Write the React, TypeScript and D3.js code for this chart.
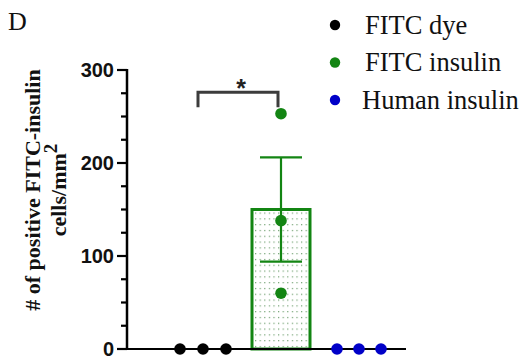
import { useEffect } from 'react'
import * as d3 from 'd3'

// groups and values
const groups = ['FITC dye', 'FITC insulin', 'Human insulin']
const groupColors = ['#000000', '#138513', '#0000c8']
const barMeans = [0, 150, 0]
const barSems = [0, 56, 0]
const points = [
  [0, 0, 0],
  [253, 138, 60],
  [0, 0, 0],
]
const jitter = [[-23, 0, 23], [0, 0, 0], [-22, 0, 22]]
const yTicks = [0, 100, 200, 300]
const yMinorTicks = d3.range(0, 301, 25)
const sigValue = 276

const W = 525
const H = 360
const SERIF = '"Liberation Serif", "Times New Roman", serif'
const SANS = '"Liberation Sans", Arial, sans-serif'

export default function App() {
  useEffect(() => {
    document.body.style.margin = '0'
  }, [])

  const y = d3.scaleLinear().domain([0, 300]).range([349, 70])
  const x = d3.scalePoint<string>().domain(groups).range([203, 359])
  const axisLeft = 127
  const axisRight = 406
  const green = groupColors[1]

  const bx = x(groups[1])!
  const barW = 58
  const capW = 42

  return (
    <svg width={W} height={H} style={{ display: 'block' }}>
      <defs>
        <pattern id="dots" width={4.6} height={5.8} patternUnits="userSpaceOnUse" x={bx - barW / 2 + 3} y={y(barMeans[1]) + 3}>
          <rect x={0} y={0} width={1.2} height={1.2} fill="#6f9f6f" />
        </pattern>
      </defs>

      {/* panel letter */}
      <text x={8} y={30} fontFamily={SERIF} fontSize={26} fill="#111">D</text>

      {/* y axis label */}
      <g transform="translate(40,190) rotate(-90)" fontFamily={SERIF} fontWeight="bold" fontSize={22} fill="#111" textAnchor="middle">
        <text x={0} y={0}>
          # of positive FITC-insulin
        </text>
        <text x={0} y={26}>
          cells/mm<tspan dy={-9} fontSize={19}>2</tspan>
        </text>
      </g>

      {/* y axis */}
      <line x1={axisLeft} x2={axisLeft} y1={y(300) - 1} y2={y(0) + 1} stroke="#000" strokeWidth={2.5} />
      {yMinorTicks.map(t => (
        <line key={'m' + t} x1={axisLeft - (yTicks.includes(t) ? 10 : 6)} x2={axisLeft} y1={y(t)} y2={y(t)} stroke="#000" strokeWidth={2.2} />
      ))}
      {yTicks.map(t => (
        <text key={t} x={axisLeft - 13} y={y(t)} dy="0.36em" textAnchor="end" fontFamily={SANS} fontWeight="bold" fontSize={20} fill="#111">
          {t}
        </text>
      ))}

      {/* bar */}
      <rect
        x={bx - barW / 2}
        y={y(barMeans[1])}
        width={barW}
        height={y(0) - y(barMeans[1])}
        fill="url(#dots)"
        stroke={green}
        strokeWidth={3}
      />

      {/* error bar */}
      <line x1={bx} x2={bx} y1={y(barMeans[1] + barSems[1])} y2={y(barMeans[1] - barSems[1])} stroke={green} strokeWidth={2.2} />
      <line x1={bx - capW / 2} x2={bx + capW / 2} y1={y(barMeans[1] + barSems[1])} y2={y(barMeans[1] + barSems[1])} stroke={green} strokeWidth={2.2} />
      <line x1={bx - capW / 2} x2={bx + capW / 2} y1={y(barMeans[1] - barSems[1])} y2={y(barMeans[1] - barSems[1])} stroke={green} strokeWidth={2.2} />

      {/* x axis */}
      <line x1={axisLeft} x2={axisRight} y1={y(0)} y2={y(0)} stroke="#000" strokeWidth={2.2} />

      {/* points */}
      {points.map((vals, gi) =>
        vals.map((v, i) => (
          <circle key={gi + '-' + i} cx={x(groups[gi])! + jitter[gi][i]} cy={y(v)} r={5.8} fill={groupColors[gi]} />
        ))
      )}

      {/* significance bracket */}
      <path
        d={`M${x(groups[0])! - 5},${y(sigValue) + 15} V${y(sigValue)} H${bx - 3} V${y(sigValue) + 15}`}
        fill="none"
        stroke="#3c3c3c"
        strokeWidth={3}
      />
      <text x={(x(groups[0])! + bx) / 2 - 1} y={y(sigValue) + 5} textAnchor="middle" fontFamily={SANS} fontWeight="bold" fontSize={25} fill="#222">*</text>

      {/* legend */}
      {groups.map((g, i) => (
        <g key={g} transform={`translate(335,${25 + i * 37.5})`}>
          <circle cx={0} cy={0} r={5.2} fill={groupColors[i]} />
          <text x={i === 2 ? 27 : 30} y={0} dy="0.33em" fontFamily={SERIF} fontSize={26.5} fill="#111">{g}</text>
        </g>
      ))}
    </svg>
  )
}
